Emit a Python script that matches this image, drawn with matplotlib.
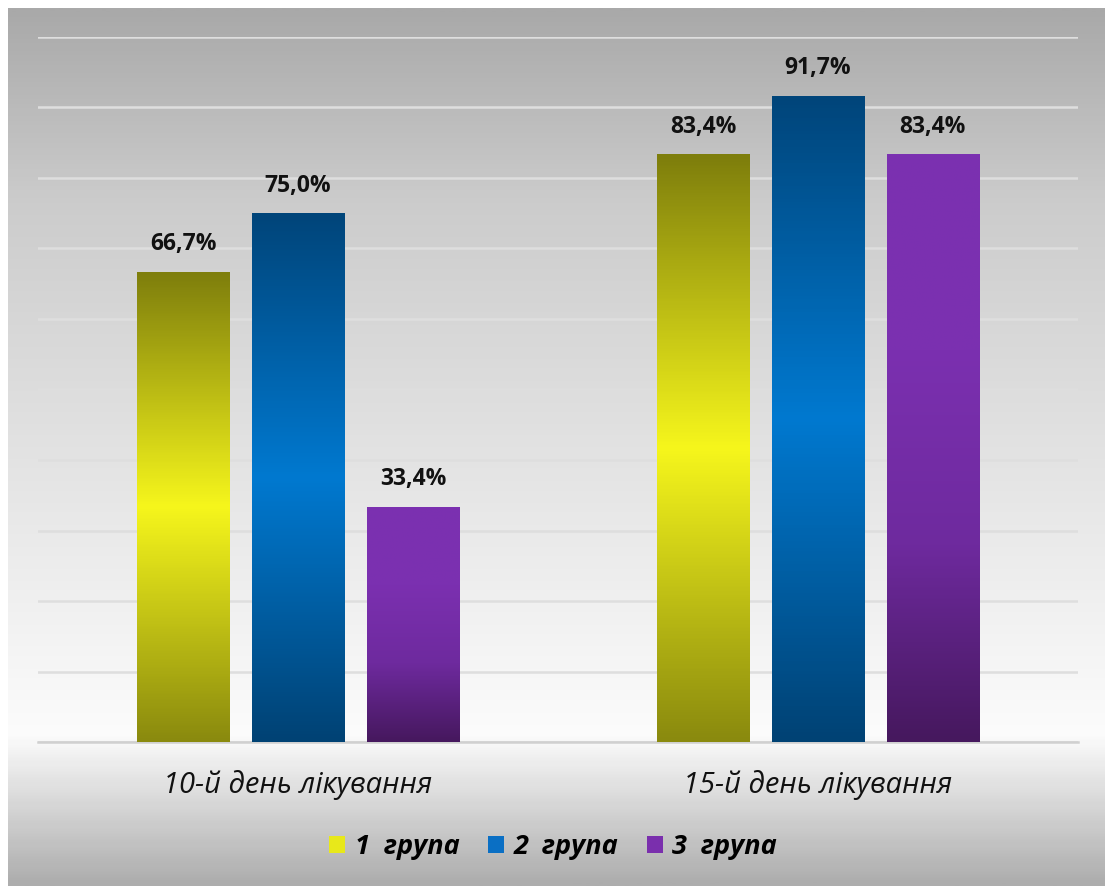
import numpy as np
import matplotlib.pyplot as plt
from matplotlib.colors import LinearSegmentedColormap
from matplotlib.patches import Patch

categories = ["10-й день лікування", "15-й день лікування"]
groups = ["1  група", "2  група", "3  група"]
values = {
    "1  група": [66.7, 83.4],
    "2  група": [75.0, 91.7],
    "3  група": [33.4, 83.4],
}

# градієнти для стовпців (знизу -> вгору)
bar_cmaps = {
    "1  група": LinearSegmentedColormap.from_list("g1", ["#8a8a0e", "#f6f61c", "#7e7e0c"]),
    "2  група": LinearSegmentedColormap.from_list("g2", ["#004274", "#0079d0", "#00457a"]),
    "3  група": LinearSegmentedColormap.from_list("g3", ["#46185e", "#6e2a9e", "#7b30b0", "#7b31b1"]),
}
legend_colors = ["#e8e81a", "#0a6fc4", "#7a2fad"]

plt.rcParams['font.family'] = ['Open Sans', 'DejaVu Sans']

fig = plt.figure(figsize=(11.05, 8.86), dpi=100)
fig.patch.set_facecolor("white")

# фон з градієнтом
bg = fig.add_axes([8 / 1105, 0, 1 - 8 / 1105, 1 - 8 / 886], zorder=-10)
bg_cmap = LinearSegmentedColormap.from_list(
    "bg", [(0.0, "#a9a9a9"), (0.22, "#cccccc"), (0.83, "#fcfcfc"), (1.0, "#adadad")])
bg.imshow(np.linspace(0, 1, 300).reshape(-1, 1), aspect="auto", cmap=bg_cmap,
          extent=[0, 1, 1, 0])
bg.set_axis_off()

ax = fig.add_axes([38 / 1105, (886 - 742) / 886, 1040 / 1105, 705 / 886])
ax.patch.set_alpha(0)
ax.set_xlim(-0.5, 1.5)
ax.set_ylim(0, 100)

x = np.arange(len(categories))
width = 0.177
step = 0.221

for i, g in enumerate(groups):
    bars = ax.bar(x + (i - 1) * step, values[g], width, color="none", zorder=3)
    for b, v in zip(bars, values[g]):
        x0, y0 = b.get_x(), b.get_y()
        im = ax.imshow(np.linspace(0, 1, 200).reshape(-1, 1), aspect="auto",
                       cmap=bar_cmaps[g], origin="lower",
                       extent=[x0, x0 + b.get_width(), y0, y0 + b.get_height()],
                       zorder=3)
        im.set_clip_path(b)
        ax.annotate(f"{v:.1f}%".replace(".", ","), (b.get_x() + b.get_width() / 2, v),
                    xytext=(0, 11), textcoords="offset points", ha="center", va="bottom",
                    fontsize=16.5, fontweight="bold", color="#111111")

ax.set_xlim(-0.5, 1.5)
ax.set_ylim(0, 100)
ax.set_yticks(np.arange(0, 101, 10))
ax.yaxis.grid(True, color="#dedede", linewidth=1.8, zorder=0)
ax.set_axisbelow(True)
ax.tick_params(axis="y", left=False, labelleft=False)
ax.tick_params(axis="x", bottom=False, pad=17)
ax.set_xticks(x)
ax.set_xticklabels(categories, fontsize=21, style="italic", color="#111111")
for s in ["top", "right", "left"]:
    ax.spines[s].set_visible(False)
ax.spines["bottom"].set_color("#d0d0d0")
ax.spines["bottom"].set_linewidth(1.8)

handles = [Patch(facecolor=c, edgecolor="none") for c in legend_colors]
fig.legend(handles, groups, loc="center", bbox_to_anchor=(553 / 1105, (886 - 847) / 886),
           ncol=3, frameon=False, handlelength=0.6, handleheight=0.6, handletextpad=0.35,
           columnspacing=1.05, prop={"size": 19.5, "weight": "bold", "style": "italic"})

fig.savefig("out.png", dpi=100)
